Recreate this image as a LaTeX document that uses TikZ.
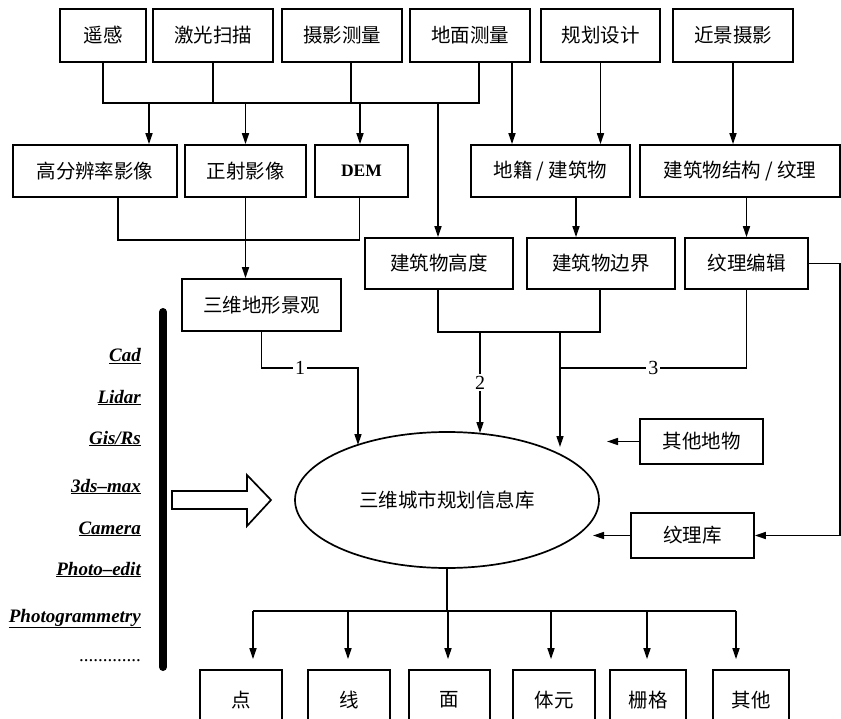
\documentclass[tikz,border=0pt]{standalone}
\usepackage{fontspec}
\setmainfont{Liberation Serif}
\newfontfamily\cjk{Noto Sans CJK SC}
\usetikzlibrary{arrows.meta,shapes.geometric}
\begin{document}
\begin{tikzpicture}[x=1pt,y=-1pt,
 box/.style={draw,line width=1.7pt,inner sep=0pt,font=\cjk\fontsize{19.5}{22}\selectfont},
 ln/.style={line width=1.6pt},
 arr/.style={ln,-{Triangle[length=11pt,width=7pt]}},
 lab/.style={fill=white,inner sep=2pt,font=\fontsize{20}{22}\selectfont},
 sw/.style={anchor=base east,inner sep=0pt,font=\fontsize{19}{22}\selectfont\bfseries\itshape}]
\clip (0,0) rectangle (841,719);
% top row
\node[box,minimum width=86pt,minimum height=53pt] (yg) at (103,35.5) {遥感};
\node[box,minimum width=120pt,minimum height=53pt] (jg) at (213,35.5) {激光扫描};
\node[box,minimum width=120pt,minimum height=53pt] (sy) at (342,35.5) {摄影测量};
\node[box,minimum width=120pt,minimum height=53pt] (dm) at (470,35.5) {地面测量};
\node[box,minimum width=119pt,minimum height=53pt] (gh) at (600.5,35.5) {规划设计};
\node[box,minimum width=120pt,minimum height=53pt] (jj) at (733,35.5) {近景摄影};
% second row
\node[box,minimum width=164pt,minimum height=52pt] (gf) at (95,171) {高分辨率影像};
\node[box,minimum width=121pt,minimum height=52pt] (zs) at (245.5,171) {正射影像};
\node[box,minimum width=93pt,minimum height=52pt,font=\fontsize{17.5}{20}\selectfont\bfseries] (dem) at (361.5,171) {DEM};
\node[box,minimum width=159pt,minimum height=52pt] (dj) at (550.5,171) {地籍 / 建筑物};
\node[box,minimum width=200pt,minimum height=52pt] (jg2) at (740,171) {建筑物结构 / 纹理};
% third row
\node[box,minimum width=159pt,minimum height=52pt] (dx) at (261.5,305) {三维地形景观};
\node[box,minimum width=148pt,minimum height=51pt] (gd) at (439,263.5) {建筑物高度};
\node[box,minimum width=148pt,minimum height=51pt] (bj) at (601,263.5) {建筑物边界};
\node[box,minimum width=123pt,minimum height=51pt] (wb) at (746.5,263.5) {纹理编辑};
\node[box,minimum width=123pt,minimum height=45pt] (qt) at (701.5,441.5) {其他地物};
\node[box,minimum width=123pt,minimum height=45pt] (wk) at (692.5,535.5) {纹理库};
% database ellipse
\node[box,ellipse,minimum width=304pt,minimum height=136pt] (db) at (447,500) {三维城市规划信息库};
% bottom row
\node[box,minimum width=82pt,minimum height=60pt] (p) at (241,700) {点};
\node[box,minimum width=82pt,minimum height=60pt] (l) at (349,700) {线};
\node[box,minimum width=81pt,minimum height=60pt] (f) at (449.5,700) {面};
\node[box,minimum width=82pt,minimum height=60pt] (v) at (554,700) {体元};
\node[box,minimum width=76pt,minimum height=60pt] (g) at (648,700) {栅格};
\node[box,minimum width=76pt,minimum height=60pt] (o) at (751,700) {其他};

% coordinates
\coordinate (busA) at (0,103);
\coordinate (busB) at (0,240);
\coordinate (busC) at (0,332);
\coordinate (busL) at (0,368);
\coordinate (busD) at (0,611);
\coordinate (t1) at (358,445);
\coordinate (t2) at (480,433);
\coordinate (t3) at (560,447);
\coordinate (tq) at (607,441.5);
\coordinate (tk) at (593,535.5);
\coordinate (rr) at (840,263.5);

% top bus
\draw[ln] (yg.south) |- ([xshift=9pt]dm.south |- busA) -- ([xshift=9pt]dm.south);
\draw[ln] (jg.south) -- (jg.south |- busA);
\draw[ln] ([xshift=9pt]sy.south) -- ([xshift=9pt]sy.south |- busA);
\draw[arr] ([xshift=54pt]gf.north |- busA) -- ([xshift=54pt]gf.north);
\draw[arr] (zs.north |- busA) -- (zs.north);
\draw[arr] ([xshift=-1.5pt]dem.north |- busA) -- ([xshift=-1.5pt]dem.north);
\draw[arr] ([xshift=-1pt]gd.north |- busA) -- ([xshift=-1pt]gd.north);
\draw[arr] ([xshift=42pt]dm.south) -- ([xshift=42pt]dm.south |- dj.north);
\draw[arr] (gh.south) -- (gh.south |- dj.north);
\draw[arr] (jj.south) -- (jj.south |- jg2.north);
% second bus
\draw[ln] ([xshift=23pt]gf.south) |- ([xshift=-2pt]dem.south |- busB) -- ([xshift=-2pt]dem.south);
\draw[arr] (zs.south) -- (zs.south |- dx.north);
\draw[arr] ([xshift=25.5pt]dj.south) -- ([xshift=25.5pt]dj.south |- bj.north);
\draw[arr] (wb.north |- jg2.south) -- (wb.north);
% building lines
\draw[ln] ([xshift=-1pt]gd.south) |- ([xshift=-1pt]bj.south |- busC) -- ([xshift=-1pt]bj.south);
\draw[arr] (t2 |- busC) -- node[lab,pos=0.5] {2} (t2);
\draw[arr] (t3 |- busC) -- (t3);
\draw[ln] (wb.south) |- node[lab,pos=0.75] {3} (t3 |- busL);
% terrain line
\draw[arr] (dx.south) |- node[lab,pos=0.7] {1} (t1 |- busL) -- (t1);
% texture library
\draw[arr] (wb.east) -- (rr) |- (wk.east);
\draw[arr] (qt.west) -- (tq);
\draw[arr] (wk.west) -- (tk);
% output bus
\draw[ln] (db.south) -- (db.south |- busD);
\draw[ln] ([xshift=12pt]p.north |- busD) -- ([xshift=-15pt]o.north |- busD);
\draw[arr] ([xshift=12pt]p.north |- busD) -- ([xshift=12pt,yshift=10pt]p.north);
\draw[arr] ([xshift=-1pt]l.north |- busD) -- ([xshift=-1pt,yshift=10pt]l.north);
\draw[arr] ([xshift=-1.5pt]f.north |- busD) -- ([xshift=-1.5pt,yshift=10pt]f.north);
\draw[arr] ([xshift=-3pt]v.north |- busD) -- ([xshift=-3pt,yshift=10pt]v.north);
\draw[arr] ([xshift=-1pt]g.north |- busD) -- ([xshift=-1pt,yshift=10pt]g.north);
\draw[arr] ([xshift=-15pt]o.north |- busD) -- ([xshift=-15pt,yshift=10pt]o.north);

% software list
\draw[line width=8pt,line cap=round] (163,312) -- (163,667);
\node[sw] (s1) at (141,362) {\underline{Cad}};
\node[sw] (s2) at (141,403) {\underline{Lidar}};
\node[sw] (s3) at (141,444) {\underline{Gis/Rs}};
\node[sw] (s4) at (141,492) {\underline{3ds--max}};
\node[sw] (s5) at (141,534) {\underline{Camera}};
\node[sw] (s6) at (141,575) {\underline{Photo--edit}};
\node[sw] (s7) at (141,622) {\underline{Photogrammetry}};
\node[sw,font=\fontsize{19}{22}\selectfont] (s8) at (141,661) {.............};
% hollow arrow
\draw[line width=1.7pt,fill=white] (172,491) -- (247,491) -- (247,475) -- (271,500) -- (247,526) -- (247,509) -- (172,509) -- cycle;
\end{tikzpicture}
\end{document}
